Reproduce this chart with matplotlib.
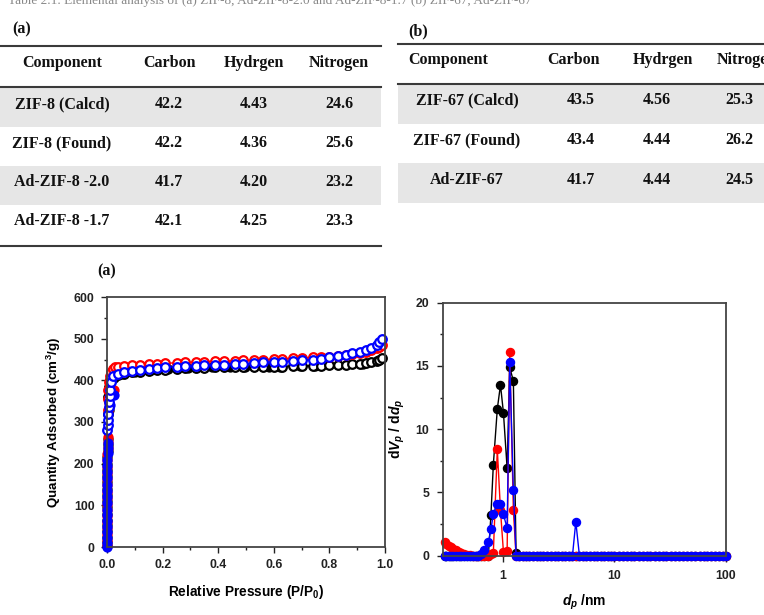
import matplotlib
matplotlib.use('Agg')
import matplotlib.pyplot as plt
from matplotlib.patches import Rectangle
from matplotlib.ticker import MultipleLocator, NullLocator, FixedLocator

plt.rcParams['font.family'] = ['Liberation Sans', 'DejaVu Sans']
plt.rcParams['font.weight'] = 'bold'
plt.rcParams['mathtext.fontset'] = 'custom'
plt.rcParams['mathtext.rm'] = 'Liberation Sans:bold'
plt.rcParams['mathtext.it'] = 'Liberation Sans:italic:bold'
plt.rcParams['mathtext.bf'] = 'Liberation Sans:bold'

# ---------------- table data ----------------
caption = "Table 2.1. Elemental analysis of (a) ZIF-8, Ad-ZIF-8-2.0 and Ad-ZIF-8-1.7 (b) ZIF-67, Ad-ZIF-67"
table_header = ['Component', 'Carbon', 'Hydrgen', 'Nitrogen']
table_a_rows = ['ZIF-8 (Calcd)', 'ZIF-8 (Found)', 'Ad-ZIF-8 -2.0', 'Ad-ZIF-8 -1.7']
table_a_carbon = ['42.2', '42.2', '41.7', '42.1']
table_a_hydrogen = ['4.43', '4.36', '4.20', '4.25']
table_a_nitrogen = ['24.6', '25.6', '23.2', '23.3']
table_b_rows = ['ZIF-67 (Calcd)', 'ZIF-67 (Found)', 'Ad-ZIF-67']
table_b_carbon = ['43.5', '43.4', '41.7']
table_b_hydrogen = ['4.56', '4.44', '4.44']
table_b_nitrogen = ['25.3', '26.2', '24.5']

# ---------------- isotherm data (a) ----------------
column_P = [0.0002, 0.0003, 0.0004, 0.0005, 0.0006, 0.0007, 0.0008, 0.0009, 0.0010, 0.0011,
            0.0012, 0.0013, 0.0014, 0.0015, 0.0016, 0.0017, 0.0018, 0.0019, 0.0020]
black_col_Q = [2, 12, 25, 38, 52, 66, 80, 95, 110, 125, 140, 155, 170, 185, 200, 215, 230, 245, 260]
red_col_Q = [5, 18, 32, 46, 60, 74, 88, 103, 118, 133, 148, 163, 178, 193, 208, 223, 238, 252, 264]
blue_col_Q = [0, 10, 22, 35, 48, 62, 76, 90, 105, 120, 135, 150, 165, 180, 195, 210, 225, 238, 250]

black_fill_P = [0.006, 0.012, 0.025, 0.05, 0.1, 0.16, 0.22, 0.29, 0.377, 0.443, 0.497, 0.581,
                0.623, 0.695, 0.749, 0.922]
black_fill_Q = [330, 380, 405, 415, 421, 425, 427, 429, 431, 431, 432, 432, 433, 434, 435, 440]
red_fill_P = [0.008, 0.015, 0.025]
red_fill_Q = [345, 365, 376]
blue_fill_P = [0.01, 0.024]
blue_fill_Q = [340, 365]

plateau_P = [0.04, 0.06, 0.09, 0.12, 0.15, 0.18, 0.21, 0.25, 0.28, 0.32, 0.35, 0.39, 0.42, 0.46,
             0.49, 0.53, 0.56, 0.60, 0.63, 0.67, 0.70, 0.74, 0.77, 0.80, 0.83, 0.86, 0.88, 0.91,
             0.93, 0.95, 0.97, 0.98, 0.99]
black_low_P = [0.002, 0.004, 0.007, 0.012, 0.02, 0.03]
black_low_Q = [320, 360, 385, 400, 408, 410]
black_plat_Q = [412, 416, 419, 421, 423, 425, 426, 428, 429, 430, 430, 431, 431, 432, 432, 432, 433,
                433, 433, 434, 434, 435, 435, 436, 437, 438, 439, 440, 441, 443, 446, 449, 453]
red_low_P = [0.002, 0.003, 0.004, 0.006, 0.009, 0.013, 0.02, 0.03]
red_low_Q = [330, 355, 378, 395, 410, 420, 427, 431]
red_plat_Q = [433, 435, 437, 438, 439, 440, 441, 442, 443, 444, 445, 446, 446, 447, 448, 449, 450,
              451, 452, 453, 454, 455, 456, 457, 459, 461, 463, 466, 469, 472, 477, 481, 485]
blue_low_P = [0.0015, 0.0025, 0.0035, 0.0045, 0.0055, 0.007, 0.009, 0.012, 0.016, 0.022]
blue_low_Q = [280, 292, 305, 320, 335, 348, 362, 378, 395, 410]
blue_plat_Q = [415, 420, 423, 426, 428, 430, 431, 433, 434, 435, 436, 437, 438, 439, 440, 441, 443,
               444, 445, 446, 448, 450, 451, 455, 458, 462, 465, 468, 472, 477, 485, 492, 500]

# ---------------- pore size distribution data (b) ----------------
pore_d = [0.30, 0.31, 0.325, 0.34, 0.36, 0.38, 0.40, 0.42, 0.45, 0.48, 0.51, 0.54, 0.57, 0.60,
          0.64, 0.68, 0.74, 0.78, 0.82, 0.89, 0.95, 1.01, 1.09, 1.15, 1.24, 1.31, 1.40, 1.50,
          1.60, 1.72, 1.85, 2.0, 2.15, 2.3, 2.5, 2.7, 2.9, 3.1, 3.35, 3.6, 3.9, 4.2, 4.5, 4.85,
          5.2, 5.6, 6.0, 6.5, 7.0, 7.5, 8.1, 8.7, 9.4, 10, 11, 12, 13, 14, 15, 16.5, 18, 19.5,
          21, 23, 25, 27, 29, 32, 35, 38, 41, 45, 49, 53, 58, 63, 68, 74, 80, 87, 94, 100]
# readings that differ from the zero baseline
black_peaks = {0.78: 3.2, 0.82: 7.2, 0.89: 11.6, 0.95: 13.5, 1.01: 11.3, 1.09: 6.9,
               1.15: 14.9, 1.24: 13.8, 1.31: 0.25}
red_peaks = {0.30: 1.1, 0.31: 0.95, 0.325: 0.8, 0.34: 0.68, 0.36: 0.55, 0.38: 0.42, 0.40: 0.32,
             0.42: 0.24, 0.45: 0.15, 0.48: 0.08, 0.51: 0.04, 0.78: 0.1, 0.82: 0.24, 0.89: 8.4,
             0.95: 3.6, 1.01: 0.3, 1.09: 0.4, 1.15: 16.1, 1.24: 3.6}
blue_peaks = {0.64: 0.1, 0.68: 0.45, 0.74: 1.06, 0.78: 2.08, 0.82: 3.3, 0.89: 4.1, 0.95: 4.1,
              1.01: 3.27, 1.09: 2.16, 1.15: 15.3, 1.24: 5.2, 4.5: 2.69}

W, H = 764, 615
fig = plt.figure(figsize=(7.64, 6.15), dpi=100)

# background overlay in pixel coordinates for the tables
bg = fig.add_axes([0, 0, 1, 1])
bg.set_xlim(0, W)
bg.set_ylim(H, 0)
bg.axis('off')

serif = dict(family='Liberation Serif', weight='bold', size=11.5, color='#111111')
gray = '#e6e6e6'
linec = '#3a3a3a'

bg.text(270, 1, caption, ha='center', va='center', family='Liberation Serif', size=9.5,
        color='#888888', weight='normal')

# table (a)
bg.text(12, 29, '(a)', ha='left', va='center', **serif)
bg.plot([0, 381], [46, 46], color=linec, lw=1.5)
bg.plot([0, 381], [87, 87], color=linec, lw=1.5)
bg.plot([0, 381], [246, 246], color=linec, lw=1.5)
a_bounds = [88, 127, 166, 205, 245]
for i in range(len(table_a_rows)):
    if i % 2 == 0:
        bg.add_patch(Rectangle((0, a_bounds[i]), 381, a_bounds[i + 1] - a_bounds[i],
                               facecolor=gray, edgecolor='none', zorder=0))
a_cols = [62, 169, 254, 339]
for x, h in zip(a_cols, table_header):
    bg.text(x, 63, h, ha='center', va='center', **serif)
a_text_y = [104, 143, 182, 221]
for i, y in enumerate(a_text_y):
    vals = [table_a_rows[i], table_a_carbon[i], table_a_hydrogen[i], table_a_nitrogen[i]]
    for x, v in zip(a_cols, vals):
        bg.text(x, y, v, ha='center', va='center', **serif)

# table (b)
bg.text(408, 31, '(b)', ha='left', va='center', **serif)
bg.plot([398, W], [43.5, 43.5], color=linec, lw=1.5)
bg.plot([398, W], [84, 84], color=linec, lw=1.5)
b_bounds = [85, 124, 163, 203]
for i in range(len(table_b_rows)):
    if i % 2 == 0:
        bg.add_patch(Rectangle((398, b_bounds[i]), W - 398, b_bounds[i + 1] - b_bounds[i],
                               facecolor=gray, edgecolor='none', zorder=0))
b_head_x = [408, 573, 663, 717]
b_head_ha = ['left', 'center', 'center', 'left']
for x, ha, h in zip(b_head_x, b_head_ha, table_header):
    bg.text(x, 60, h, ha=ha, va='center', **serif)
b_cols = [467, 581, 657, 739]
b_text_y = [100, 140, 180]
for i, y in enumerate(b_text_y):
    vals = [table_b_rows[i], table_b_carbon[i], table_b_hydrogen[i], table_b_nitrogen[i]]
    for x, v in zip(b_cols, vals):
        bg.text(x, y, v, ha='center', va='center', **serif)

# ---------------- panel (a): isotherms ----------------
axA = fig.add_axes([107 / W, 1 - 547 / H, 278 / W, 250 / H])
samples = [
    ('black', column_P + black_fill_P, black_col_Q + black_fill_Q,
     black_low_P + plateau_P, black_low_Q + black_plat_Q),
    ('#ff0000', column_P + red_fill_P, red_col_Q + red_fill_Q,
     red_low_P + plateau_P, red_low_Q + red_plat_Q),
    ('#0000ff', column_P + blue_fill_P, blue_col_Q + blue_fill_Q,
     blue_low_P + plateau_P, blue_low_Q + blue_plat_Q),
]
for c, fp, fq, op, oq in samples:
    axA.plot(fp, fq, '-o', color=c, lw=1.0, ms=6.2, mfc=c, mec=c, mew=1.2, clip_on=False)
    axA.plot(op, oq, '-o', color=c, lw=1.0, ms=6.2, mfc='white', mec=c, mew=1.6, clip_on=False)

axA.set_xlim(0, 1.0)
axA.set_ylim(0, 600)
axA.xaxis.set_major_locator(MultipleLocator(0.2))
axA.xaxis.set_minor_locator(MultipleLocator(0.1))
axA.yaxis.set_major_locator(MultipleLocator(100))
axA.yaxis.set_minor_locator(MultipleLocator(50))
axA.xaxis.set_major_formatter(matplotlib.ticker.FormatStrFormatter('%.1f'))
axA.tick_params(which='both', direction='out', width=1.0, colors='#222222', labelsize=8.8)
axA.tick_params(which='major', length=4, pad=5)
axA.tick_params(which='minor', length=2.5)
axA.set_xlabel('Relative Pressure (P/P$_0$)', fontsize=9.8, fontweight='bold', labelpad=8)
axA.set_ylabel('Quantity Adsorbed (cm$^3$/g)', fontsize=9.6, fontweight='bold', labelpad=8)
for s in axA.spines.values():
    s.set_linewidth(1.3)
    s.set_color('#444444')
bg.text(107, 271, '(a)', ha='center', va='center', **serif)

# ---------------- panel (b): pore size distribution ----------------
axB = fig.add_axes([443 / W, 1 - 555.7 / H, 283 / W, 253 / H])
psd = [('black', black_peaks), ('#ff0000', red_peaks), ('#0000ff', blue_peaks)]
for c, peaks in psd:
    vals = [peaks.get(d, 0.0) for d in pore_d]
    axB.plot(pore_d, vals, '-o', color=c, lw=1.0, ms=5.8, mfc=c, mec=c, clip_on=False)
axB.set_xscale('log')
axB.set_xlim(0.29, 100)
axB.set_ylim(0, 20)
axB.xaxis.set_major_locator(FixedLocator([1, 10, 100]))
axB.xaxis.set_major_formatter(matplotlib.ticker.FixedFormatter(['1', '10', '100']))
axB.xaxis.set_minor_locator(NullLocator())
axB.yaxis.set_major_locator(MultipleLocator(5))
axB.yaxis.set_minor_locator(MultipleLocator(2.5))
axB.tick_params(which='both', direction='out', width=1.0, colors='#222222', labelsize=8.8)
axB.tick_params(which='major', length=4, pad=6)
axB.tick_params(which='minor', length=2.5)
axB.set_xlabel('$d_p$ /nm', fontsize=10, fontweight='bold', labelpad=8)
axB.set_ylabel('d$V_p$ / d$d_p$', fontsize=10, fontweight='bold', labelpad=6)
for s in axB.spines.values():
    s.set_linewidth(1.3)
    s.set_color('#444444')

fig.savefig('out.png', dpi=100)
